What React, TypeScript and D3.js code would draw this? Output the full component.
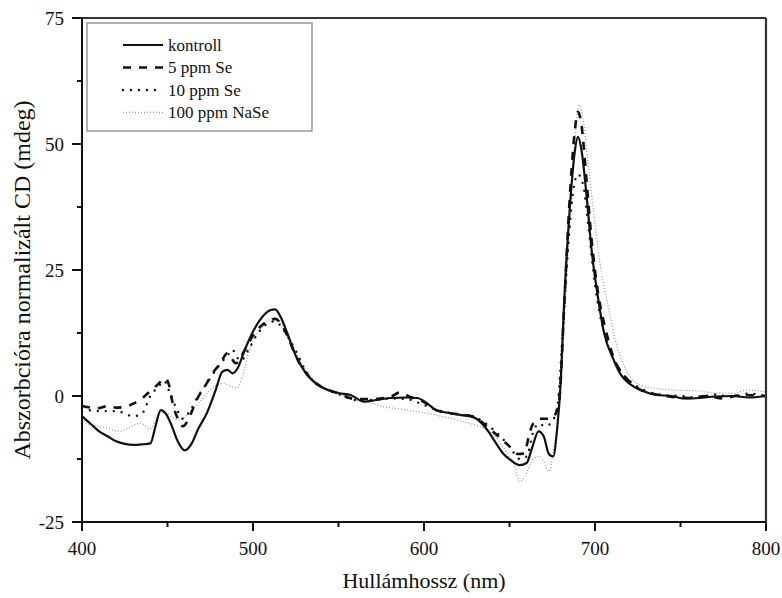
import React from "react";
import * as d3 from "d3";

const wlKontroll = [400,405,410,415,420,425,430,435,440,443,446,449,452,456,460,464,468,473,478,482,485,488,491,495,500,505,510,513,516,520,525,530,535,540,550,557,565,572,580,590,596,602,607,615,622,628,634,638,642,646,651,656,660,663,667,670,673,675.5,678,680,682,685,688,690,692,695,698,702,705,711,715,720,728,736,745,752,761,770,780,790,800];
const cdKontroll = [-4,-5.5,-7,-8,-9,-9.5,-9.7,-9.6,-9.4,-6,-2.8,-3.5,-5.5,-9,-10.8,-9.5,-6.5,-3.4,1,4.8,5.2,4.5,5.5,9,12.8,15.5,17,17.2,15.8,12.5,8,5,3,1.8,0.6,0.2,-1.1,-0.8,-0.4,-0.3,-0.4,-1.5,-2.8,-3.4,-3.8,-4.1,-5.5,-7.2,-9.3,-11.3,-12.8,-13.7,-13.3,-10.5,-7,-8,-11.5,-12,-6,3,19,36,48,51.4,49,40,29,19,13,7.1,4.3,2.5,1,0.2,0,-0.5,-0.4,-0.1,0,-0.3,0];

const wl5ppm = [400,405,410,415,420,425,430,435,440,444,449,451,453,456,459,463,467,472,477,481,485,490,495,500,505,510,513,516,520,525,530,535,540,550,560,570,580,586,592,600,607,615,628,640,650,655,658.5,662,664,668,672,676,679,682,685,688,690,692,695,698,702,706,711,716,721,728,736,745,755,765,775,785,800];
const cd5ppm = [-2,-2.3,-2.4,-2,-2.3,-2.2,-1.5,-0.5,1,2.2,3.5,2,-1.4,-4.5,-6,-4,-0.8,2,4.8,6.5,8.5,6.5,9,12,14,15,15.3,14.5,12,8,5,3,1.8,0.5,-0.6,-0.6,-0.2,0.7,-0.2,-1.2,-2.8,-3.4,-4,-7,-10,-11.5,-11.4,-7,-5.4,-4.5,-4.5,-4,-1,18,38,52,56.4,54,43,31,20,13.5,7.5,4.5,2.6,1,0.3,-0.2,-0.4,0,-0.5,0.2,0];

const wl10ppm = [400,410,420,430,435,440,445,448,452,456,459,463,468,475,480,485,488,490,493,497,502,507,512,516,520,525,530,535,540,550,560,570,580,590,600,610,620,630,640,650,656,660,664,667,671,675,678,681,684,687,690,693,696,700,705,710,716,722,730,740,750,760,770,780,790,800];
const cd10ppm = [-2.5,-3,-3,-4,-3.5,0,2,3,0,-3,-4.5,-3,0,3.5,6,8,9.2,8,7,9,12,14,14.8,14,12,9,5.5,3,1.8,0.4,-0.8,-0.8,-0.5,-0.6,-1.8,-3,-3.6,-4.2,-6.5,-10,-12.5,-12,-7,-5.5,-6,-5,-2,12,28,40,44,42,34,22,13,8,4.5,2.5,1,0.2,0,-0.3,0.3,-0.2,0.5,0];

const wl100ppm = [400,403,410,416,422,428,434,440,443,446,450,454,457,462,468,473,477,482,487,490.5,494,497,500,505,510,513,516,520,525,530,540,550,560,570,576,586,596,610,623,632,640,648,653,656,659,663,667,670,673,676,679,682,685,688,691,693,696,700,704,707,712,717,722,730,745,760,770,780,790,800];
const cd100ppm = [-4.5,-5.6,-6,-6.5,-7,-6.2,-5.4,-6.5,-5,-3.3,-3.5,-4.5,-4.8,-3.5,-1.5,0.5,1.8,2.5,2,1.6,4,8,11,13.5,15.2,15.5,14.5,12,8.5,5.5,2,0.5,-0.8,-1.5,-2.1,-2.6,-3.1,-4,-5.1,-6,-7.5,-11,-14,-17,-16,-13,-12,-13,-15,-10,-2,15,34,50,57.7,55,46,34,24,19,11,6,3.2,1.8,1.2,1,0.6,0.5,1.2,0.8];

const xTicks = [400, 500, 600, 700, 800];
const xMinor = [450, 550, 650, 750];
const yTicks = [-25, 0, 25, 50, 75];
const yMinor = [-12.5, 12.5, 37.5, 62.5];
const legendLabels = ["kontroll", "5 ppm Se", "10 ppm Se", "100 ppm NaSe"];

const FONT = "'Liberation Serif', 'Times New Roman', serif";

const styles = [
  { stroke: "#111", width: 2.2, dash: "", cap: "butt" },
  { stroke: "#111", width: 2.6, dash: "8,8", cap: "butt" },
  { stroke: "#111", width: 2.4, dash: "0,8", cap: "round" },
  { stroke: "#9a9a9a", width: 1.3, dash: "1,2", cap: "butt" },
];

export default function App() {
  const left = 82, right = 766, top = 18, bottom = 522;
  const x = d3.scaleLinear().domain([400, 800]).range([left, right]);
  const y = d3.scaleLinear().domain([-25, 75]).range([bottom, top]);

  const series = [
    { wl: wlKontroll, cd: cdKontroll },
    { wl: wl5ppm, cd: cd5ppm },
    { wl: wl10ppm, cd: cd10ppm },
    { wl: wl100ppm, cd: cd100ppm },
  ];

  const line = d3
    .line<[number, number]>()
    .x((d) => x(d[0]))
    .y((d) => y(d[1]))
    .curve(d3.curveMonotoneX);

  const order = [3, 2, 1, 0];

  return (
    <svg
      width={782}
      height={598}
      style={{ position: "absolute", left: 0, top: 0, display: "block", background: "#fff" }}
      fontFamily={FONT}
    >
      <rect x={0} y={0} width={782} height={598} fill="#fff" />
      {order.map((i) => {
        const s = series[i];
        const pts = s.wl.map((w, k) => [w, s.cd[k]] as [number, number]);
        const st = styles[i];
        return (
          <path
            key={i}
            d={line(pts) || ""}
            fill="none"
            stroke={st.stroke}
            strokeWidth={st.width}
            strokeDasharray={st.dash || undefined}
            strokeLinecap={st.cap as any}
            strokeLinejoin="round"
          />
        );
      })}

      {/* frame */}
      <line x1={left} x2={right} y1={top} y2={top} stroke="#333" strokeWidth={2.2} />
      <line x1={right} x2={right} y1={top} y2={bottom} stroke="#333" strokeWidth={2.2} />
      <line x1={left} x2={left} y1={top} y2={bottom + 9} stroke="#111" strokeWidth={2} />
      <line x1={left - 10} x2={right} y1={bottom} y2={bottom} stroke="#111" strokeWidth={2} />

      {/* x ticks */}
      {xTicks.map((t) => (
        <g key={"xt" + t}>
          <line x1={x(t)} x2={x(t)} y1={bottom} y2={bottom + 9} stroke="#111" strokeWidth={2} />
          <text x={x(t)} y={bottom + 33} textAnchor="middle" fontSize={19} fill="#111">
            {t}
          </text>
        </g>
      ))}
      {xMinor.map((t) => (
        <line key={"xm" + t} x1={x(t)} x2={x(t)} y1={bottom} y2={bottom + 5} stroke="#111" strokeWidth={2} />
      ))}

      {/* y ticks */}
      {yTicks.map((t) => (
        <g key={"yt" + t}>
          <line x1={left - 10} x2={left} y1={y(t)} y2={y(t)} stroke="#111" strokeWidth={2} />
          <text x={left - 18} y={y(t) + 6.5} textAnchor="end" fontSize={19} fill="#111">
            {t}
          </text>
        </g>
      ))}
      {yMinor.map((t) => (
        <line key={"ym" + t} x1={left - 5} x2={left} y1={y(t)} y2={y(t)} stroke="#111" strokeWidth={2} />
      ))}

      {/* axis titles */}
      <text x={(left + right) / 2} y={588} textAnchor="middle" fontSize={22} fill="#111">
        Hullámhossz (nm)
      </text>
      <text
        transform={`translate(30, ${(top + bottom) / 2 + 10}) rotate(-90)`}
        textAnchor="middle"
        fontSize={24}
        fill="#111"
      >
        Abszorbcióra normalizált CD (mdeg)
      </text>

      {/* legend */}
      <rect x={87} y={23} width={225} height={108} fill="#fff" stroke="#999" strokeWidth={1.5} />
      {legendLabels.map((lab, i) => {
        const st = styles[i];
        const ly = 45 + i * 22.5;
        return (
          <g key={lab}>
            <line
              x1={123}
              x2={163}
              y1={ly}
              y2={ly}
              stroke={st.stroke}
              strokeWidth={st.width}
              strokeDasharray={st.dash || undefined}
              strokeLinecap={st.cap as any}
            />
            <text x={168} y={ly + 5.5} fontSize={17} fill="#111">
              {lab}
            </text>
          </g>
        );
      })}
    </svg>
  );
}
